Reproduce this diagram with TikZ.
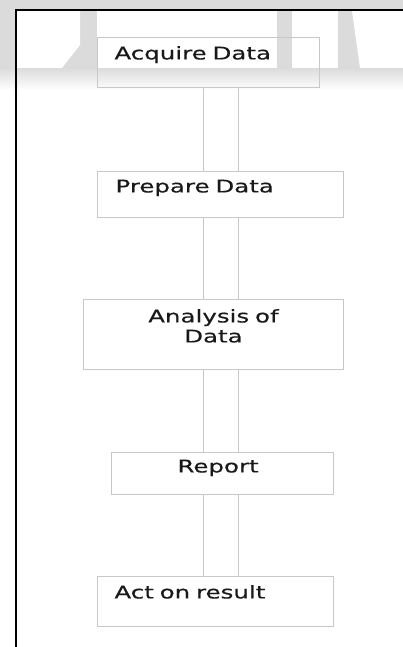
\documentclass[tikz,border=0pt]{standalone}
\usepackage{fontspec}
\newfontfamily\boxfont[FakeStretch=1.4,WordSpace=1.5,FakeBold=0.4]{DejaVu Sans}
\definecolor{boxgray}{HTML}{C8C8C8}
\definecolor{bandgray}{HTML}{DBDBDB}
\tikzset{
  box/.style={draw=boxgray, line width=0.9pt, anchor=north west, inner ysep=0pt,
    font=\boxfont\fontsize{17.5}{20}\selectfont, align=left, text=black!90},
  link/.style={draw=boxgray, line width=0.9pt},
  frame/.style={draw=black, line width=1.7pt}
}
\begin{document}
\begin{tikzpicture}[x=1pt,y=-1pt]
\useasboundingbox (0,0) rectangle (403,647);
% faded scan background at the top
\fill[bandgray] (0,0) rectangle (403,68);
\shade[top color=bandgray, bottom color=white] (0,68) rectangle (403,90);
\fill[white] (17,11) -- (80,11) -- (80,45) -- (62,68) -- (17,68) -- cycle;
\fill[white] (97,11) rectangle (277,68);
\fill[white] (292,11) rectangle (338,68);
\fill[white] (352,11) -- (403,11) -- (403,68) -- (360,68) -- cycle;
% frame
\coordinate (ftr) at (403,9.8);
\coordinate (ftl) at (15.8,9.8);
\coordinate (fbl) at (15.8,647);
\draw[frame] (ftr) -- (ftl) -- (fbl);
% boxes
\node[box, inner xsep=17pt, text width=188pt, text height=22pt, text depth=28pt] (acq) at (97,37) {Acquire Data};
\node[box, inner xsep=18pt, text width=210pt, text height=21pt, text depth=25pt] (prep) at (97,171) {Prepare Data};
\node[box, inner xsep=0pt, text width=260pt, align=center, text height=23pt, text depth=47pt] (ana) at (83,299) {Analysis of\\Data};
\node[box, inner xsep=66pt, text width=90pt, text height=20pt, text depth=22pt] (rep) at (111,452) {Report};
\node[box, inner xsep=17pt, text width=202pt, text height=22pt, text depth=28pt] (act) at (97,576) {Act on result};
% connectors
\coordinate (cl) at (203.3,0);
\coordinate (cr) at (238.3,0);
\foreach \a/\b in {acq/prep, prep/ana, ana/rep, rep/act}{
  \draw[link] (\a.south -| cl) -- (\b.north -| cl);
  \draw[link] (\a.south -| cr) -- (\b.north -| cr);
}
\end{tikzpicture}
\end{document}
